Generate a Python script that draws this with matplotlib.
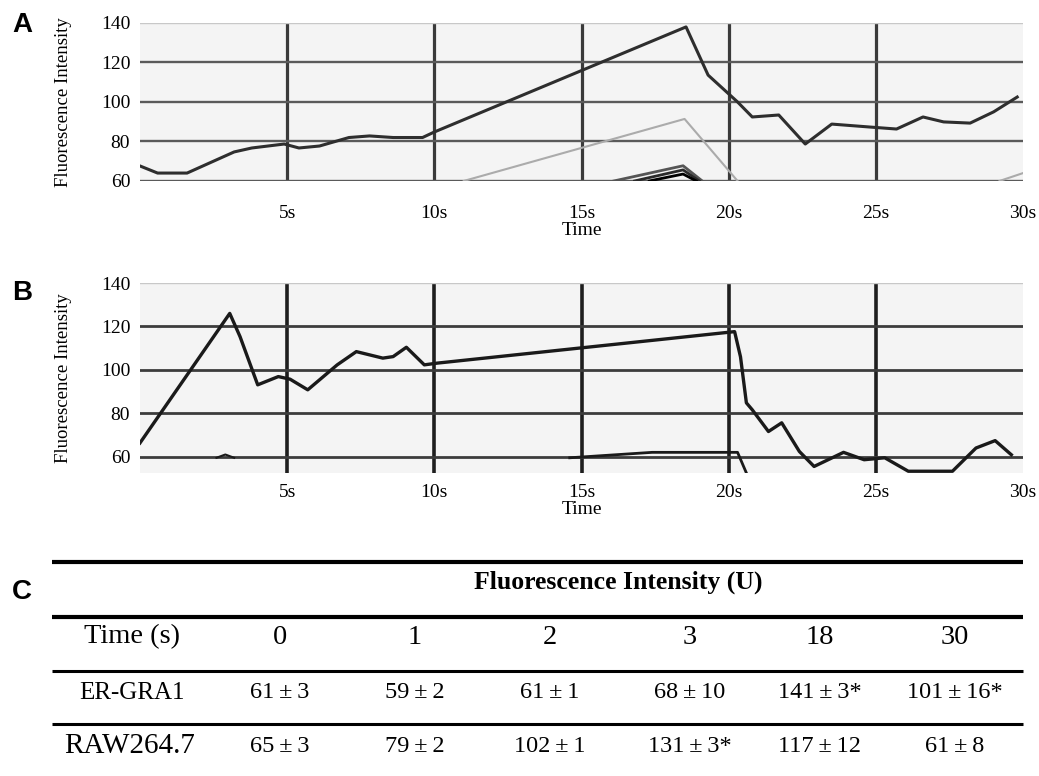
import matplotlib
matplotlib.use("Agg")
import matplotlib.pyplot as plt

# panel A: traced fluorescence trace (ER-GRA1)
time_a = [0, 0.6, 1.6, 3.2, 3.8, 4.9, 5.4, 6.1, 7.1, 7.8, 8.6, 9.6, 10.0, 18.55,
          19.3, 20.3, 20.8, 21.7, 22.6, 23.5, 24.8, 25.7, 26.6, 27.3, 28.2, 29.0, 29.8]
fi_a = [67.6, 64, 64, 74.7, 76.7, 78.7, 76.7, 77.7, 82, 82.8, 82, 82, 84.8, 138,
        113.6, 100, 92.4, 93.4, 78.7, 88.8, 87.3, 86.3, 92.4, 89.9, 89.3, 95, 102.5]
time_a_gray = [11.0, 18.5, 20.3]
fi_a_gray = [60, 91.4, 60]
time_a_gray_end = [29.2, 30.0]
fi_a_gray_end = [60, 64]
time_a_low = [[16.1, 18.45, 19.1], [16.8, 18.45, 19.0], [17.3, 18.45, 18.9]]
fi_a_low = [[60, 67.7, 60], [60, 65.6, 60], [60, 63.5, 60]]

# panel B: traced fluorescence trace (RAW264.7)
time_b = [0, 3.05, 3.4, 4.0, 4.7, 5.1, 5.7, 6.7, 7.35, 7.8, 8.25, 8.6, 9.05, 9.66,
          10.1, 20.2, 20.4, 20.6, 20.8, 21.35, 21.8, 22.4, 22.9, 23.9, 24.6, 25.3,
          26.1, 27.6, 28.4, 29.05, 29.6]
fi_b = [66.3, 126, 115.3, 93.1, 96.9, 95.7, 90.8, 102.3, 108.4, 106.9, 105.4, 106.1,
        110.4, 102.3, 103.1, 117.6, 106, 84.8, 81.6, 71.6, 75.6, 62.4, 55.5, 62, 58.6,
        59.5, 53.3, 53.3, 64, 67.4, 60.9]
time_b_low = [14.6, 17.4, 20.3, 20.6]
fi_b_low = [59.5, 62, 62, 52.5]
time_b_tick = [2.6, 2.9, 3.2]
fi_b_tick = [59.5, 61, 59.5]

x_ticks = [5, 10, 15, 20, 25, 30]
x_labels = ["5s", "10s", "15s", "20s", "25s", "30s"]
y_ticks = [60, 80, 100, 120, 140]

# panel C: table
time_points = ["0", "1", "2", "3", "18", "30"]
er_gra1 = ["61±3", "59±2", "61±1", "68±10", "141±3*", "101±16*"]
raw264 = ["65±3", "79±2", "102±1", "131±3*", "117±12", "61±8"]

SERIF = "Liberation Serif"
plt.rcParams["font.family"] = [SERIF, "DejaVu Serif"]

fig = plt.figure(figsize=(10.39, 7.76), dpi=100)


def style_axis(ax, ylim, vcol, vlw, hcol, hlw, tickpad):
    ax.set_facecolor("#f4f4f4")
    ax.set_xlim(0, 30)
    ax.set_ylim(*ylim)
    for s in ax.spines.values():
        s.set_visible(False)
    for t in x_ticks[:-1]:
        ax.axvline(t, color=vcol, lw=vlw, zorder=1)
    for v in y_ticks[1:-1]:
        ax.axhline(v, color=hcol, lw=hlw, zorder=1)
    ax.axhline(60, color=hcol, lw=hlw, zorder=1)
    ax.axhline(ylim[1], color="#c8c8c8", lw=1.0, zorder=1)
    ax.set_xticks(x_ticks)
    ax.set_xticklabels(x_labels, fontsize=14)
    ax.set_yticks(y_ticks)
    ax.set_yticklabels([str(v) for v in y_ticks], fontsize=14)
    ax.tick_params(axis="x", length=0, pad=tickpad)
    ax.tick_params(axis="y", length=0, pad=7)
    ax.set_xlabel("Time", fontsize=14, labelpad=0)
    ax.set_ylabel("Fluorescence Intensity", fontsize=13.5)
    ax.yaxis.set_label_coords(-0.077, 0.5)


ax_a = fig.add_axes([0.1347, 0.7668, 0.85, 0.2036])
style_axis(ax_a, (60, 140), "#3a3a3a", 2.3, "#5a5a5a", 1.7, 17)
ax_a.plot(time_a, fi_a, color="#2e2e2e", lw=2.2, zorder=3)
ax_a.plot(time_a_gray, fi_a_gray, color="#ababab", lw=1.5, zorder=2)
ax_a.plot(time_a_gray_end, fi_a_gray_end, color="#ababab", lw=1.5, zorder=2)
for tt, vv, c in zip(time_a_low, fi_a_low, ["#555555", "#2a2a2a", "#000000"]):
    ax_a.plot(tt, vv, color=c, lw=2.0, zorder=2)

ax_b = fig.add_axes([0.1347, 0.3905, 0.85, 0.2448])
style_axis(ax_b, (52.5, 140), "#1e1e1e", 2.6, "#3c3c3c", 2.0, 8)
ax_b.plot(time_b, fi_b, color="#1a1a1a", lw=2.4, zorder=3)
ax_b.plot(time_b_low, fi_b_low, color="#1a1a1a", lw=2.0, zorder=2)
ax_b.plot(time_b_tick, fi_b_tick, color="#1a1a1a", lw=1.5, zorder=2)

# panel letters
for lbl, y in [("A", 25), ("B", 293), ("C", 592)]:
    fig.text(22 / 1039, 1 - y / 776, lbl, fontsize=20, fontweight="bold",
             family="Liberation Sans", ha="center", va="center")

# table in pixel coordinates
ax_t = fig.add_axes([0, 0, 1, 1], zorder=-1)
ax_t.set_xlim(0, 1039)
ax_t.set_ylim(776, 0)
ax_t.axis("off")
x0, x1 = 52, 1023
for y, lw in [(562, 3.0), (617, 3.0), (671, 2.2), (724, 2.2)]:
    ax_t.plot([x0, x1], [y, y], color="black", lw=lw, solid_capstyle="butt")

ax_t.text(618, 582, "Fluorescence Intensity (U)", fontsize=18.5, fontweight="bold",
          ha="center", va="center")
col_x = [280, 415, 550, 690, 820, 955]
ax_t.text(132, 637, "Time (s)", fontsize=20.5, ha="center", va="center")
ax_t.text(132, 693, "ER-GRA1", fontsize=18, ha="center", va="center")
ax_t.text(130, 746, "RAW264.7", fontsize=21, ha="center", va="center")
for cx, tp, e, r in zip(col_x, time_points, er_gra1, raw264):
    ax_t.text(cx, 637, tp, fontsize=20.5, ha="center", va="center")
    ax_t.text(cx, 693, e.replace("±", "\u2009±\u2009"), fontsize=17.5, ha="center", va="center")
    ax_t.text(cx, 746, r.replace("±", "\u2009±\u2009"), fontsize=17.5, ha="center", va="center")

fig.savefig("out.png", dpi=100)
